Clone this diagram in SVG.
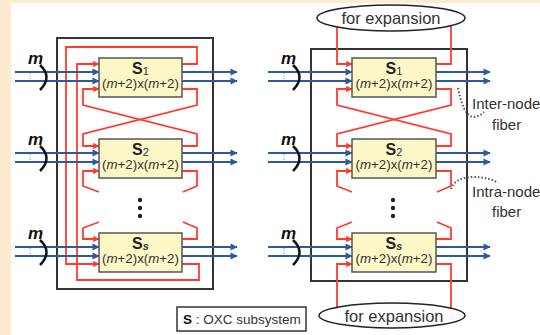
<svg xmlns="http://www.w3.org/2000/svg" width="540" height="335" viewBox="0 0 540 335">
<defs>
<marker id="ab" viewBox="0 0 10 10" refX="9" refY="5" markerWidth="4" markerHeight="3.6" orient="auto"><path d="M0,0 L10,5 L0,10 z" fill="#2e5a9c"/></marker>
<marker id="ar" viewBox="0 0 10 10" refX="9" refY="5" markerWidth="4" markerHeight="3.6" orient="auto"><path d="M0,0 L10,5 L0,10 z" fill="#ff3b30"/></marker>
<style>
.frame{fill:none;stroke:#333;stroke-width:2}
.red{fill:none;stroke:#ff3b30;stroke-width:1.8}
.redA{fill:none;stroke:#ff3b30;stroke-width:1.8;marker-end:url(#ar)}
.blue{fill:none;stroke:#2e5a9c;stroke-width:2;marker-end:url(#ab)}
.box{fill:#fbf7c6;stroke:#555;stroke-width:1.5}
.t{font-family:"Liberation Sans",Arial,sans-serif;fill:#333}
.sb{font-weight:bold;font-size:16px;fill:#222}
.sub{font-size:11px}
.dim{font-size:13.3px}
.m{font-family:"Liberation Sans",Arial,sans-serif;font-weight:bold;font-style:italic;font-size:17px;fill:#111}
.brk{fill:none;stroke:#111;stroke-width:2.5}
.dt{stroke:#6a8fc0;stroke-width:1;stroke-dasharray:1 1.5}
.ell{fill:#fff;stroke:#222;stroke-width:1.5}
.lbl{font-family:"Liberation Sans",Arial,sans-serif;font-size:15px;fill:#333}
.curve{fill:none;stroke:#555;stroke-width:2;stroke-dasharray:1.5 2}
</style>
</defs>
<rect x="0" y="0" width="540" height="335" fill="#fcebd0"/>
<rect x="11" y="3" width="529" height="332" fill="#fff"/>

<rect class="frame" x="57" y="38" width="156" height="251"/>
<rect class="frame" x="311" y="49" width="156" height="232"/>

<g id="connectors">
<!-- left diagram red -->
<path class="redA" d="M182,64 H197 V47 H66 V264 H99"/>
<path class="redA" d="M182,264 H199 V280 H77 V64 H99"/>
<path class="redA" d="M182,89 H197 V105 L83,134 V146 H99"/>
<path class="redA" d="M182,146 H197 V134 L83,105 V89 H99"/>
<path class="red" d="M182,171 H197 V186 L183,192"/>
<path class="redA" d="M99,192 L83,186 V171 H99"/>
<path class="red" d="M182,239 H197 V228 L183,222"/>
<path class="redA" d="M99,222 L83,228 V239 H99"/>
<!-- right diagram red -->
<path class="redA" d="M337,18 V64 H352"/>
<path class="red" d="M436,64 H451 V18"/>
<path class="redA" d="M436,89 H451 V105 L337,134 V146 H352"/>
<path class="redA" d="M436,146 H451 V134 L337,105 V89 H352"/>
<path class="red" d="M436,171 H451 V186 L437,192"/>
<path class="redA" d="M352,192 L337,186 V171 H352"/>
<path class="red" d="M436,239 H451 V228 L437,222"/>
<path class="redA" d="M352,222 L337,228 V239 H352"/>
<path class="redA" d="M337,315 V264 H352"/>
<path class="red" d="M436,264 H451 V315"/>
<!-- blue left -->
<path class="blue" d="M15,72 H99"/><path class="blue" d="M15,81 H99"/>
<path class="blue" d="M182,72 H237"/><path class="blue" d="M182,81 H237"/>
<path class="blue" d="M15,153 H99"/><path class="blue" d="M15,162 H99"/>
<path class="blue" d="M182,153 H237"/><path class="blue" d="M182,162 H237"/>
<path class="blue" d="M15,247 H99"/><path class="blue" d="M15,256 H99"/>
<path class="blue" d="M182,247 H237"/><path class="blue" d="M182,256 H237"/>
<!-- blue right -->
<path class="blue" d="M268,72 H352"/><path class="blue" d="M268,81 H352"/>
<path class="blue" d="M436,72 H490"/><path class="blue" d="M436,81 H490"/>
<path class="blue" d="M268,153 H352"/><path class="blue" d="M268,162 H352"/>
<path class="blue" d="M436,153 H490"/><path class="blue" d="M436,162 H490"/>
<path class="blue" d="M268,247 H352"/><path class="blue" d="M268,256 H352"/>
<path class="blue" d="M436,247 H490"/><path class="blue" d="M436,256 H490"/>
<!-- fiber pointers -->
<path class="curve" d="M458,88 C461,102 465,116 473,117 C477,117 481,115 484,112"/>
<path class="curve" d="M451,189 C454,181 462,177 472,177 C484,177 492,179 498,183"/>
</g>

<g id="inputs">
<line class="dt" x1="30" y1="73" x2="30" y2="80"/>
<line class="dt" x1="30" y1="154" x2="30" y2="161"/>
<line class="dt" x1="30" y1="248" x2="30" y2="255"/>
<line class="dt" x1="284" y1="73" x2="284" y2="80"/>
<line class="dt" x1="284" y1="154" x2="284" y2="161"/>
<line class="dt" x1="284" y1="248" x2="284" y2="255"/>
<path class="brk" d="M40,65 Q53,77 40,90"/>
<path class="brk" d="M40,146 Q53,158 40,171"/>
<path class="brk" d="M40,240 Q53,252 40,265"/>
<path class="brk" d="M293,65 Q306,77 293,90"/>
<path class="brk" d="M293,146 Q306,158 293,171"/>
<path class="brk" d="M293,240 Q306,252 293,265"/>
<text class="m" x="28" y="64">m</text>
<text class="m" x="28" y="145">m</text>
<text class="m" x="28" y="239">m</text>
<text class="m" x="281" y="64">m</text>
<text class="m" x="281" y="145">m</text>
<text class="m" x="281" y="239">m</text>
</g>

<g id="L-S1"><rect class="box" x="99" y="58" width="83" height="39"/>
<text class="t" x="140.5" y="73.5" text-anchor="middle"><tspan class="sb">S</tspan><tspan class="sub" dy="1">1</tspan></text>
<text class="t dim" x="140.5" y="88" text-anchor="middle">(<tspan font-style="italic">m</tspan>+2)x(<tspan font-style="italic">m</tspan>+2)</text></g>
<g id="L-S2"><rect class="box" x="99" y="139" width="83" height="39"/>
<text class="t" x="140.5" y="154.5" text-anchor="middle"><tspan class="sb">S</tspan><tspan class="sub" dy="1">2</tspan></text>
<text class="t dim" x="140.5" y="169" text-anchor="middle">(<tspan font-style="italic">m</tspan>+2)x(<tspan font-style="italic">m</tspan>+2)</text></g>
<g id="L-Ss"><rect class="box" x="99" y="233" width="83" height="39"/>
<text class="t" x="140.5" y="248.5" text-anchor="middle"><tspan class="sb">S</tspan><tspan class="sub" dy="1" font-weight="bold" font-style="italic">s</tspan></text>
<text class="t dim" x="140.5" y="263" text-anchor="middle">(<tspan font-style="italic">m</tspan>+2)x(<tspan font-style="italic">m</tspan>+2)</text></g>
<g id="L-dots" fill="#222"><circle cx="140" cy="200" r="2.2"/><circle cx="140" cy="208" r="2.2"/><circle cx="140" cy="216" r="2.2"/></g>

<g id="R-S1"><rect class="box" x="352" y="58" width="84" height="39"/>
<text class="t" x="394" y="73.5" text-anchor="middle"><tspan class="sb">S</tspan><tspan class="sub" dy="1">1</tspan></text>
<text class="t dim" x="394" y="88" text-anchor="middle">(<tspan font-style="italic">m</tspan>+2)x(<tspan font-style="italic">m</tspan>+2)</text></g>
<g id="R-S2"><rect class="box" x="352" y="139" width="84" height="39"/>
<text class="t" x="394" y="154.5" text-anchor="middle"><tspan class="sb">S</tspan><tspan class="sub" dy="1">2</tspan></text>
<text class="t dim" x="394" y="169" text-anchor="middle">(<tspan font-style="italic">m</tspan>+2)x(<tspan font-style="italic">m</tspan>+2)</text></g>
<g id="R-Ss"><rect class="box" x="352" y="233" width="84" height="39"/>
<text class="t" x="394" y="248.5" text-anchor="middle"><tspan class="sb">S</tspan><tspan class="sub" dy="1" font-weight="bold" font-style="italic">s</tspan></text>
<text class="t dim" x="394" y="263" text-anchor="middle">(<tspan font-style="italic">m</tspan>+2)x(<tspan font-style="italic">m</tspan>+2)</text></g>
<g id="R-dots" fill="#222"><circle cx="393" cy="200" r="2.2"/><circle cx="393" cy="208" r="2.2"/><circle cx="393" cy="216" r="2.2"/></g>

<g id="exp-top"><ellipse class="ell" cx="391" cy="18" rx="74" ry="13"/>
<text class="t" x="391" y="23.5" text-anchor="middle" font-size="16.5">for expansion</text></g>
<g id="exp-bottom"><ellipse class="ell" cx="392" cy="315.5" rx="73" ry="12.5"/>
<text class="t" x="394" y="321.5" text-anchor="middle" font-size="16.5">for expansion</text></g>

<g id="inter-label"><text class="lbl" x="472" y="109">Inter-node</text><text class="lbl" x="492" y="130">fiber</text></g>
<g id="intra-label"><text class="lbl" x="472" y="197">Intra-node</text><text class="lbl" x="492" y="217">fiber</text></g>

<g id="legend"><rect x="177" y="307" width="129" height="24" fill="#fff" stroke="#333" stroke-width="1.5"/>
<text class="t" x="183" y="323.5" font-size="13.5"><tspan font-weight="bold" fill="#111">S</tspan> : OXC subsystem</text></g>
</svg>
